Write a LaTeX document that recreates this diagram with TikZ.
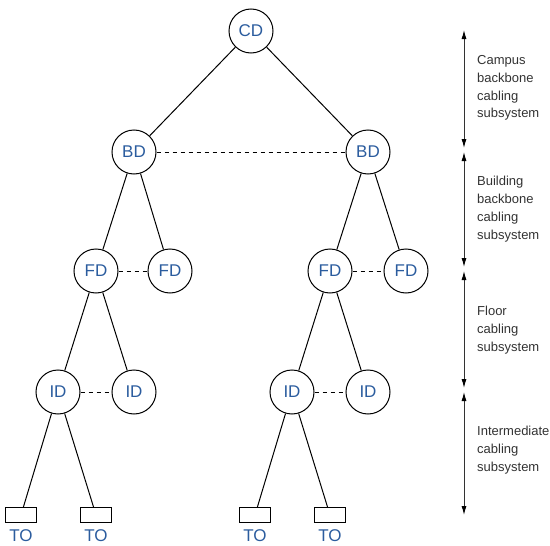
\documentclass[tikz,border=0pt]{standalone}
\usepackage{fontspec}
\setmainfont{Liberation Sans}
\usetikzlibrary{arrows.meta,positioning}
\definecolor{labelblue}{HTML}{2B5C9E}
\definecolor{sidegray}{HTML}{333333}
\tikzset{
    dist/.style={circle, draw, line width=1pt, minimum size=44pt, inner sep=0pt,
        text=labelblue, font=\fontsize{17}{19}\selectfont},
    outlet/.style={rectangle, draw, line width=1pt, minimum width=31pt,
        minimum height=15pt, inner sep=0pt},
    outletlabel/.style={inner sep=0pt, text=labelblue, font=\fontsize{17}{19}\selectfont},
    link/.style={line width=1pt},
    peer/.style={line width=1pt, dash pattern=on 4pt off 4pt},
    levelarrow/.style={line width=1pt, sidegray,
        {Latex[length=9pt,width=5pt,black]}-{Latex[length=9pt,width=5pt,black]}},
    leveltext/.style={anchor=west, align=left, inner sep=0pt, text=sidegray,
        font=\fontsize{13}{17.8}\selectfont}
}

\begin{document}
\begin{tikzpicture}[x=1pt,y=-1pt]
    \useasboundingbox (0,0) rectangle (550,546);

    % Draw distributors.
    \node[dist] (cd) at (251,31) {CD};
    \node[dist] (bd1) at (134,152) {BD};
    \node[dist] (bd2) at (368,152) {BD};
    \node[dist] (fd1) at (96,271) {FD};
    \node[dist] (fd2) at (170,271) {FD};
    \node[dist] (fd3) at (330,271) {FD};
    \node[dist] (fd4) at (406,271) {FD};
    \node[dist] (id1) at (58,392) {ID};
    \node[dist] (id2) at (134,392) {ID};
    \node[dist] (id3) at (292,392) {ID};
    \node[dist] (id4) at (368,392) {ID};

    % Draw outlets.
    \node[outlet] (to1) at (21,515) {};
    \node[outlet] (to2) at (96,515) {};
    \node[outlet] (to3) at (255,515) {};
    \node[outlet] (to4) at (330,515) {};
    \foreach \t in {1,2,3,4}
        \node[outletlabel, below=6pt of to\t] (tl\t) {TO};

    % Draw tree links.
    \foreach \a/\b in {cd/bd1, cd/bd2, bd1/fd1, bd1/fd2, bd2/fd3, bd2/fd4,
                       fd1/id1, fd1/id2, fd3/id3, fd3/id4,
                       id1/to1, id1/to2, id3/to3, id3/to4}
        \draw[link] (\a) -- (\b);

    % Draw dashed links.
    \foreach \a/\b in {bd1/bd2, fd1/fd2, fd3/fd4, id1/id2, id3/id4}
        \draw[peer] (\a) -- (\b);

    % Draw subsystem arrows.
    \foreach \n/\top/\bot in {1/30/148, 2/152/267, 3/271/388, 4/392/515} {
        \coordinate (a\n) at (464,\top);
        \coordinate (b\n) at (464,\bot);
        \draw[levelarrow] (a\n) -- (b\n);
    }
    \node[leveltext] (campus) at (477,88) {Campus\\backbone\\cabling\\subsystem};
    \node[leveltext] (building) at (477,209) {Building\\backbone\\cabling\\subsystem};
    \node[leveltext] (floor) at (477,330) {Floor\\cabling\\subsystem};
    \node[leveltext] (intermediate) at (477,450) {Intermediate\\cabling\\subsystem};
\end{tikzpicture}
\end{document}
